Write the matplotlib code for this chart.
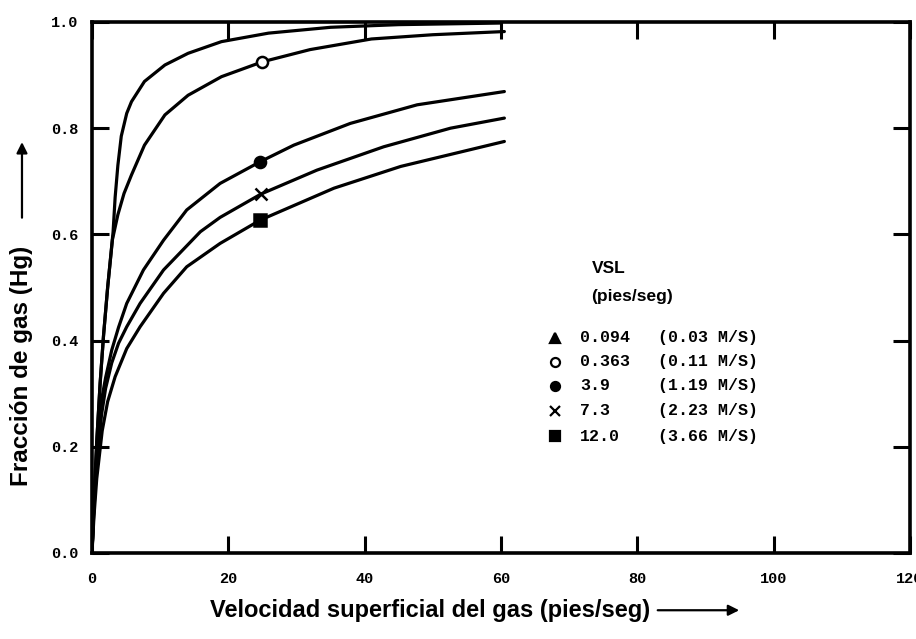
import numpy as np
import matplotlib.pyplot as plt

# curvas: VSL (pies/seg)
x_094 = [0, 0.3, 0.7, 1.2, 1.7, 2.3, 3.1, 3.4, 3.8, 4.3, 5.1, 5.8, 7.7, 10.7, 14.1, 19, 25.9, 35, 45, 60]
y_094 = [0, 0.1, 0.21, 0.32, 0.41, 0.5, 0.605, 0.67, 0.73, 0.785, 0.828, 0.85, 0.888, 0.919, 0.941, 0.963, 0.979, 0.99, 0.995, 0.998]

x_363 = [0, 0.3, 0.7, 1.2, 1.7, 2.3, 3.0, 3.8, 4.7, 5.8, 7.7, 10.7, 14.1, 19, 25, 32, 41, 50, 60.5]
y_363 = [0, 0.1, 0.21, 0.32, 0.41, 0.5, 0.59, 0.637, 0.677, 0.712, 0.768, 0.825, 0.862, 0.897, 0.925, 0.948, 0.968, 0.976, 0.982]

x_39 = [0, 0.3, 0.7, 1.4, 2.0, 2.9, 3.9, 5.1, 7.55, 10.5, 13.9, 18.8, 24.7, 29.6, 37.9, 47.7, 60.5]
y_39 = [0, 0.09, 0.18, 0.288, 0.33, 0.382, 0.425, 0.47, 0.533, 0.589, 0.646, 0.696, 0.737, 0.768, 0.809, 0.844, 0.869]

x_73 = [0, 0.3, 0.7, 1.4, 2.0, 2.9, 3.9, 5.1, 7.06, 10.5, 15.9, 18.8, 24.8, 33, 42.8, 52.6, 60.5]
y_73 = [0, 0.085, 0.165, 0.26, 0.31, 0.358, 0.395, 0.426, 0.47, 0.533, 0.605, 0.632, 0.676, 0.721, 0.765, 0.8, 0.819]

x_120 = [0, 0.3, 0.7, 1.5, 2.3, 3.4, 5.1, 7.06, 10.5, 13.9, 18.8, 24.7, 35.5, 45.3, 60.5]
y_120 = [0, 0.07, 0.14, 0.23, 0.285, 0.332, 0.385, 0.426, 0.489, 0.539, 0.583, 0.627, 0.687, 0.728, 0.775]

# marcadores sobre las curvas
mk_x = [25, 24.7, 24.8, 24.7]
mk_y = [0.925, 0.737, 0.676, 0.627]
mk_style = ['o', 'o', 'x', 's']
mk_fill = ['white', 'black', 'black', 'black']

leg_sym = ['^', 'o', 'o', 'x', 's']
leg_fill = ['black', 'white', 'black', 'black', 'black']
leg_vsl = ['0.094', '0.363', '3.9', '7.3', '12.0']
leg_ms = ['(0.03 M/S)', '(0.11 M/S)', '(1.19 M/S)', '(2.23 M/S)', '(3.66 M/S)']

fig = plt.figure(figsize=(9.16, 6.39), dpi=100)
ax = fig.add_axes([0.1004, 0.1346, 0.893, 0.831])

for xs, ys in [(x_094, y_094), (x_363, y_363), (x_39, y_39), (x_73, y_73), (x_120, y_120)]:
    ax.plot(xs, ys, c='black', lw=2.3, solid_capstyle='round', solid_joinstyle='round')

for i in range(len(mk_x)):
    ax.plot(mk_x[i], mk_y[i], marker=mk_style[i], ms=8, mfc=mk_fill[i], mec='black', mew=1.8, ls='none')

ax.set_xlim(0, 120)
ax.set_ylim(0, 1.0)
ax.set_xticks([0, 20, 40, 60, 80, 100, 120])
ax.set_yticks([0, 0.2, 0.4, 0.6, 0.8, 1.0])
ax.set_xticklabels(['0', '20', '40', '60', '80', '100', '120'])
ax.set_yticklabels(['0.0', '0.2', '0.4', '0.6', '0.8', '1.0'])
ax.tick_params(direction='in', length=12, width=2.2, top=True, right=True)
ax.tick_params(axis='x', pad=14)
ax.tick_params(axis='y', pad=10)
for lab in ax.get_xticklabels() + ax.get_yticklabels():
    lab.set_fontfamily('Liberation Mono')
    lab.set_fontweight('bold')
    lab.set_fontsize(11)
for sp in ax.spines.values():
    sp.set_linewidth(2.6)

# leyenda a mano
ax.text(73.3, 0.535, 'VSL', fontsize=12.5, fontweight='bold', family='Liberation Sans', va='center')
ax.text(73.3, 0.483, '(pies/seg)', fontsize=12.5, fontweight='bold', family='Liberation Sans', va='center')
row_y = [0.405, 0.36, 0.315, 0.268, 0.22]
for i in range(5):
    ax.plot(67.9, row_y[i], marker=leg_sym[i], ms=6.5, mfc=leg_fill[i], mec='black', mew=1.6, ls='none', clip_on=False)
    ax.text(71.6, row_y[i], leg_vsl[i], fontsize=12, fontweight='bold', family='Liberation Mono', va='center')
    ax.text(83.0, row_y[i], leg_ms[i], fontsize=12, fontweight='bold', family='Liberation Mono', va='center')

# etiquetas de ejes con flechas
fig.text(0.024, 0.427, 'Fracción de gas (Hg)', rotation=90, fontsize=17.5, fontweight='bold',
         family='Liberation Sans', ha='center', va='center')
ax.annotate('', xy=(0.024, 0.782), xytext=(0.024, 0.655), xycoords='figure fraction',
            textcoords='figure fraction', annotation_clip=False,
            arrowprops=dict(arrowstyle='-|>', color='black', lw=1.6, mutation_scale=16))
fig.text(0.47, 0.045, 'Velocidad superficial del gas (pies/seg)', fontsize=17, fontweight='bold',
         family='Liberation Sans', ha='center', va='center')
ax.annotate('', xy=(0.81, 0.045), xytext=(0.715, 0.045), xycoords='figure fraction',
            textcoords='figure fraction', annotation_clip=False,
            arrowprops=dict(arrowstyle='-|>', color='black', lw=1.6, mutation_scale=16))

fig.savefig('out.png', dpi=100)
